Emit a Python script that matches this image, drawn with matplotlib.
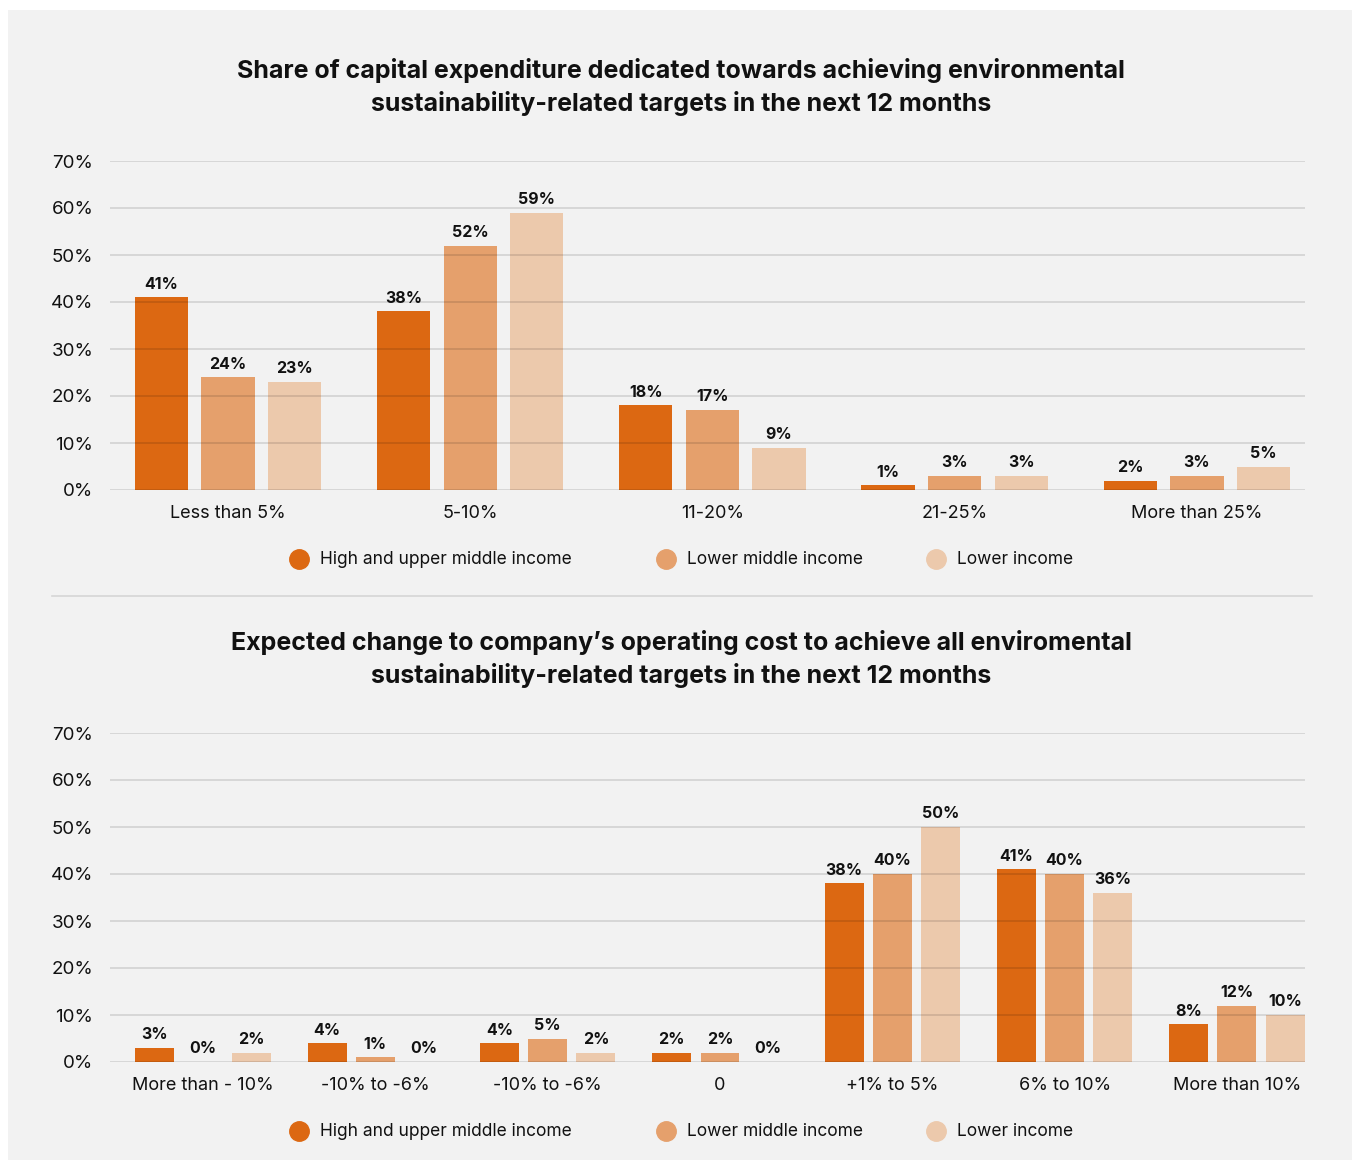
import matplotlib
matplotlib.use("Agg")
import matplotlib.pyplot as plt
from matplotlib.patches import Rectangle
from matplotlib.lines import Line2D
import numpy as np

plt.rcParams["font.family"] = ["Inter", "DejaVu Sans"]

# ─── data ──────────────────────────────────────────────────────────────────────
series = ["High and upper middle income", "Lower middle income", "Lower income"]
colors = ["#DC6812", "#E5A06C", "#ECC9AC"]

capex_title = ("Share of capital expenditure dedicated towards achieving environmental\n"
               "sustainability-related targets in the next 12 months")
capex_cats = ["Less than 5%", "5-10%", "11-20%", "21-25%", "More than 25%"]
capex_high = [41, 38, 18, 1, 2]
capex_lower_mid = [24, 52, 17, 3, 3]
capex_low = [23, 59, 9, 3, 5]

opex_title = ("Expected change to company\u2019s operating cost to achieve all enviromental\n"
              "sustainability-related targets in the next 12 months")
opex_cats = ["More than - 10%", "-10% to -6%", "-10% to -6%", "0",
             "+1% to 5%", "6% to 10%", "More than 10%"]
opex_high = [3, 4, 4, 2, 38, 41, 8]
opex_lower_mid = [0, 1, 5, 2, 40, 40, 12]
opex_low = [2, 0, 2, 0, 50, 36, 10]

yticks = [0, 10, 20, 30, 40, 50, 60, 70]

W, H = 1356, 1160
fig = plt.figure(figsize=(W / 100, H / 100), dpi=100, facecolor="white")

# grey panel + divider
fig.patches.append(Rectangle((8 / W, 0), 1344 / W, 1 - 10 / H, transform=fig.transFigure,
                             facecolor="#F2F2F2", edgecolor="none", zorder=-5))
fig.lines.append(Line2D([52 / W, 1312 / W], [1 - 596 / H] * 2, transform=fig.transFigure,
                        color="#D6D6D6", lw=1.2, zorder=-4))


def px_box(x0, x1, ytop, ybot):
    return [x0 / W, 1 - ybot / H, (x1 - x0) / W, (ybot - ytop) / H]


def draw_panel(box, cats, values, xlim, width, offset, title, title_y, legend_y):
    ax = fig.add_axes(box)
    ax.set_facecolor("none")
    ax.set_zorder(2)
    x = np.arange(len(cats))
    for i, (vals, col) in enumerate(zip(values, colors)):
        pos = x + (i - 1) * offset
        ax.bar(pos, vals, width=width, color=col, zorder=2, clip_on=False)
        for xp, v in zip(pos, vals):
            ax.text(xp, v + 1.2, f"{v}%", ha="center", va="bottom", fontsize=11.5,
                    fontweight="bold", color="#111111", zorder=4)
    ax.set_xlim(*xlim)
    ax.set_ylim(0, 70)
    ax.set_yticks(yticks)
    ax.set_yticklabels([f"{t}%" for t in yticks])
    ax.set_xticks(x)
    ax.set_xticklabels(cats)
    ax.tick_params(axis="both", length=0, colors="#111111")
    ax.tick_params(axis="y", pad=12, labelsize=13.5)
    ax.tick_params(axis="x", pad=11, labelsize=13)
    ax.grid(axis="y", color="#000000", alpha=0.14, lw=1.1, zorder=3)
    ax.set_axisbelow(False)
    for s in ax.spines.values():
        s.set_visible(False)

    fig.text(681 / W, 1 - title_y / H, title, ha="center", va="center", fontsize=18,
             fontweight="bold", color="#111111", linespacing=1.4)

    for (mx, tx), lab, col in zip([(299, 320), (666, 687), (936, 957)], series, colors):
        fig.lines.append(Line2D([mx / W], [1 - legend_y / H], transform=fig.transFigure,
                                marker="o", markersize=14, color=col, lw=0))
        fig.text(tx / W, 1 - legend_y / H, lab, ha="left", va="center", fontsize=12.5,
                 color="#111111")
    return ax


draw_panel(px_box(110, 1305, 161, 490), capex_cats,
           [capex_high, capex_lower_mid, capex_low],
           (-0.487, 4.446), 0.22, 0.275, capex_title, 87, 559)

draw_panel(px_box(110, 1305, 733, 1062), opex_cats,
           [opex_high, opex_lower_mid, opex_low],
           (-0.54, 6.395), 0.226, 0.28, opex_title, 659, 1131)

fig.savefig("out.png", dpi=100, facecolor="white")
